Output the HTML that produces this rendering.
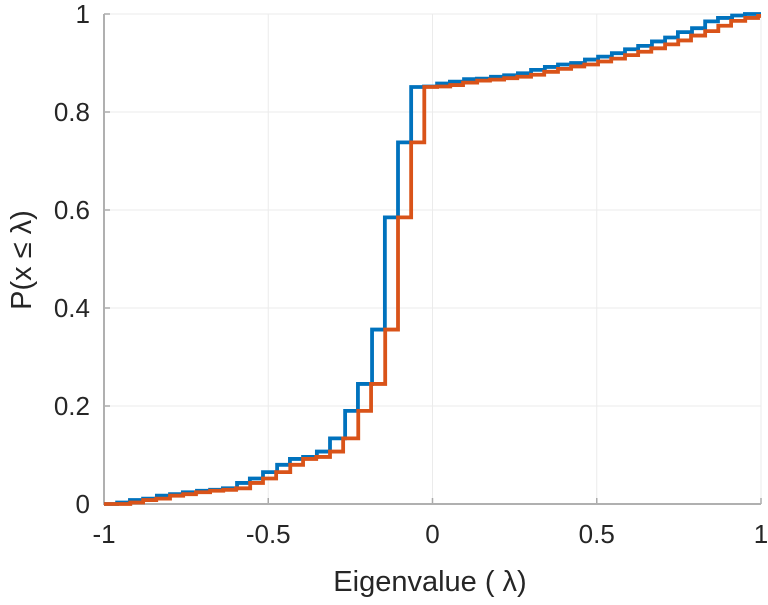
<!DOCTYPE html>
<html><head><meta charset="utf-8"><style>
body{margin:0;background:#fff;}
svg text{font-family:"Liberation Sans","DejaVu Sans",sans-serif;fill:#262626;}
</style></head><body>
<svg id="chart" width="768" height="600" viewBox="0 0 768 600" xmlns="http://www.w3.org/2000/svg">
<g id="grid"></g>
<g id="axes"></g>
<g id="series"></g>
<text x="430" y="591" font-size="29" text-anchor="middle">Eigenvalue (   λ)</text>
<text transform="translate(31,260) rotate(-90)" font-size="29" text-anchor="middle">P(x  ≤  λ)</text>
</svg>
<script>
const xTicks=[-1,-0.5,0,0.5,1];
const xTickLabels=["-1","-0.5","0","0.5","1"];
const yTicks=[0,0.2,0.4,0.6,0.8,1];
const yTickLabels=["0","0.2","0.4","0.6","0.8","1"];
const blueEdges=[-0.960,-0.921,-0.881,-0.839,-0.799,-0.760,-0.717,-0.677,-0.638,-0.595,-0.556,-0.516,-0.473,-0.434,-0.394,-0.352,-0.312,-0.266,-0.227,-0.184,-0.145,-0.105,-0.065,-0.026,0.014,0.053,0.096,0.135,0.178,0.218,0.260,0.300,0.342,0.382,0.422,0.464,0.504,0.546,0.586,0.626,0.668,0.708,0.747,0.790,0.830,0.869,0.912,0.951];
const blueValues=[0.003,0.008,0.011,0.017,0.020,0.024,0.027,0.029,0.032,0.043,0.052,0.065,0.080,0.092,0.096,0.107,0.134,0.190,0.245,0.356,0.585,0.738,0.851,0.852,0.858,0.862,0.867,0.868,0.872,0.875,0.879,0.886,0.892,0.897,0.900,0.907,0.913,0.920,0.928,0.935,0.944,0.952,0.963,0.971,0.985,0.992,0.997,1.0];
const orangeEdges=[-0.920,-0.881,-0.841,-0.799,-0.759,-0.720,-0.677,-0.637,-0.598,-0.555,-0.516,-0.476,-0.433,-0.394,-0.354,-0.312,-0.272,-0.226,-0.187,-0.144,-0.105,-0.065,-0.025,0.014,0.054,0.093,0.136,0.175,0.218,0.258,0.300,0.340,0.382,0.422,0.462,0.504,0.544,0.586,0.626,0.666,0.708,0.748,0.787,0.830,0.870,0.909,0.952,0.991];
const orangeValues=[0.003,0.008,0.011,0.017,0.020,0.024,0.027,0.029,0.032,0.043,0.052,0.065,0.080,0.092,0.096,0.107,0.134,0.190,0.245,0.356,0.585,0.738,0.851,0.852,0.855,0.860,0.864,0.866,0.869,0.872,0.876,0.882,0.888,0.893,0.897,0.903,0.909,0.916,0.923,0.930,0.938,0.946,0.956,0.965,0.976,0.986,0.992,0.996];
const L=104,R=761,T=14,B=504;
const sx=v=>L+(v+1)/2*(R-L);
const sy=v=>B-v*(B-T);
const NS="http://www.w3.org/2000/svg";
function mk(tag,attrs,parent){const e=document.createElementNS(NS,tag);for(const k in attrs)e.setAttribute(k,attrs[k]);parent.appendChild(e);return e;}
const grid=document.getElementById('grid'),axes=document.getElementById('axes'),series=document.getElementById('series');
xTicks.forEach((t,i)=>{
  const g=mk('line',{x1:sx(t),x2:sx(t),y1:T,y2:B,stroke:'#ebebeb','stroke-width':1},grid);
  
  
  const tk=mk('line',{x1:sx(t),x2:sx(t),y1:B,y2:B-6,stroke:'#aaa','stroke-width':1.5},axes);
  
  
  const tx=mk('text',{x:sx(t),y:B+39,'font-size':26,'text-anchor':'middle'},axes);
  tx.textContent=xTickLabels[i];
  
  
});
yTicks.forEach((t,i)=>{
  const g=mk('line',{x1:L,x2:R,y1:sy(t),y2:sy(t),stroke:'#ebebeb','stroke-width':1},grid);
  
  
  const tk=mk('line',{x1:L,x2:L+6,y1:sy(t),y2:sy(t),stroke:'#aaa','stroke-width':1.5},axes);
  
  
  const tx=mk('text',{x:L-14,y:sy(t)+9,'font-size':26,'text-anchor':'end'},axes);
  tx.textContent=yTickLabels[i];
  
  
});
const ax=mk('path',{d:`M${L},${T} V${B} H${R}`,stroke:'#b0b0b0','stroke-width':2,fill:'none'},axes);


function stair(edges,vals,color,name){
  let d=`M${sx(-1)},${sy(0)}`;
  edges.forEach((e,i)=>{d+=` H${sx(e)} V${sy(vals[i])}`;});
  d+=` H${sx(1)}`;
  const p=mk('path',{d:d,stroke:color,'stroke-width':3.8,fill:'none'},series);
  
  
}
stair(blueEdges,blueValues,'#0072BD','blue-cdf-line');
stair(orangeEdges,orangeValues,'#D95319','orange-cdf-line');
</script>
</body></html>
